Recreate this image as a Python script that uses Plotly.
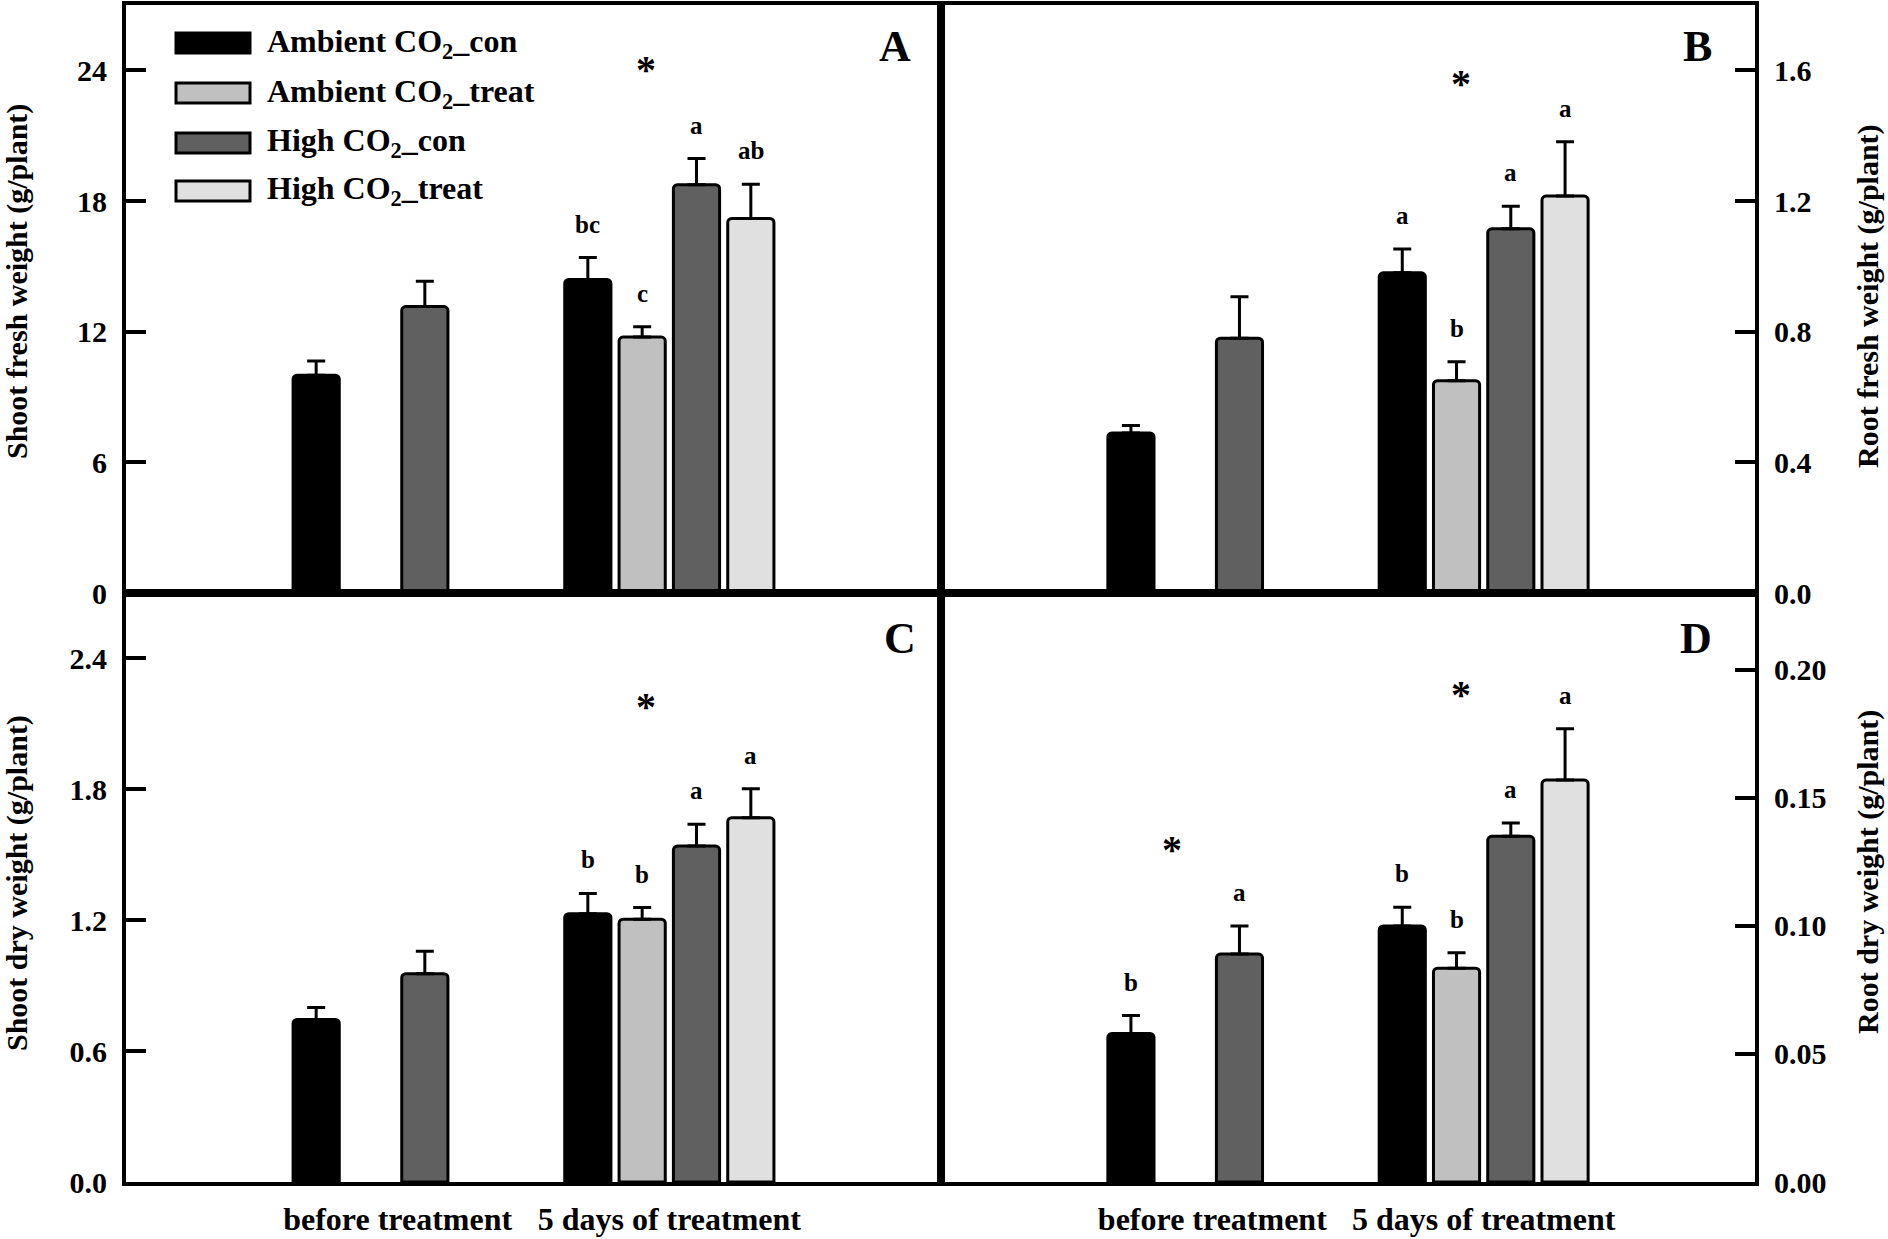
import plotly.graph_objects as go

# ---------------- data ----------------
categories = ["before treatment", "5 days of treatment"]
series_names = ["Ambient CO<sub>2</sub>_con", "Ambient CO<sub>2</sub>_treat",
                "High CO<sub>2</sub>_con", "High CO<sub>2</sub>_treat"]
series_colors = ["#000000", "#c0c0c0", "#606060", "#e0e0e0"]

# Panel A: shoot fresh weight (g/plant)
a_amb_con = [10.0, 14.4]
a_amb_treat = [None, 11.75]
a_high_con = [13.15, 18.75]
a_high_treat = [None, 17.2]
a_err_amb_con = [0.65, 1.0]
a_err_amb_treat = [None, 0.48]
a_err_high_con = [1.17, 1.2]
a_err_high_treat = [None, 1.57]
a_letters = [[None, "bc"], [None, "c"], [None, "a"], [None, "ab"]]
a_stars = [(1, 24.2)]

# Panel B: root fresh weight (g/plant)
b_amb_con = [0.49, 0.98]
b_amb_treat = [None, 0.65]
b_high_con = [0.78, 1.115]
b_high_treat = [None, 1.215]
b_err_amb_con = [0.023, 0.073]
b_err_amb_treat = [None, 0.058]
b_err_high_con = [0.127, 0.069]
b_err_high_treat = [None, 0.166]
b_letters = [[None, "a"], [None, "b"], [None, "a"], [None, "a"]]
b_stars = [(1, 1.573)]

# Panel C: shoot dry weight (g/plant)
c_amb_con = [0.745, 1.23]
c_amb_treat = [None, 1.205]
c_high_con = [0.955, 1.54]
c_high_treat = [None, 1.67]
c_err_amb_con = [0.055, 0.093]
c_err_amb_treat = [None, 0.053]
c_err_high_con = [0.103, 0.10]
c_err_high_treat = [None, 0.133]
c_letters = [[None, "b"], [None, "b"], [None, "a"], [None, "a"]]
c_stars = [(1, 2.2)]

# Panel D: root dry weight (g/plant)
d_amb_con = [0.058, 0.100]
d_amb_treat = [None, 0.0835]
d_high_con = [0.089, 0.135]
d_high_treat = [None, 0.157]
d_err_amb_con = [0.007, 0.0073]
d_err_amb_treat = [None, 0.006]
d_err_high_con = [0.011, 0.0052]
d_err_high_treat = [None, 0.020]
d_letters = [["b", "b"], [None, "b"], ["a", "a"], [None, "a"]]
d_stars = [(0, 0.1315), (1, 0.192)]

y_titles = ["Shoot fresh weight (g/plant)", "Root fresh weight (g/plant)",
            "Shoot dry weight (g/plant)", "Root dry weight (g/plant)"]
panel_labels = ["A", "B", "C", "D"]
y_ticks = [[0, 6, 12, 18, 24], [0, 0.4, 0.8, 1.2, 1.6],
           [0, 0.6, 1.2, 1.8, 2.4], [0, 0.05, 0.10, 0.15, 0.20]]
y_tickfmt = ["d", ".1f", ".1f", ".2f"]
y_ranges = [[0, 27], [0, 1.8], [0, 2.7], [0, 0.23]]

panels = [
    ([a_amb_con, a_amb_treat, a_high_con, a_high_treat],
     [a_err_amb_con, a_err_amb_treat, a_err_high_con, a_err_high_treat], a_letters, a_stars),
    ([b_amb_con, b_amb_treat, b_high_con, b_high_treat],
     [b_err_amb_con, b_err_amb_treat, b_err_high_con, b_err_high_treat], b_letters, b_stars),
    ([c_amb_con, c_amb_treat, c_high_con, c_high_treat],
     [c_err_amb_con, c_err_amb_treat, c_err_high_con, c_err_high_treat], c_letters, c_stars),
    ([d_amb_con, d_amb_treat, d_high_con, d_high_treat],
     [d_err_amb_con, d_err_amb_treat, d_err_high_con, d_err_high_treat], d_letters, d_stars),
]

# ---------------- layout geometry ----------------
W, H = 1888, 1239
L, R, T, B = 126, 1755, 5, 1182
PW, PH = R - L, B - T
XSPLIT = (941 - L) / PW
YSPLIT = (B - 593) / PH


def px_x(px):
    return (px - L) / PW


def px_y(py):
    return (B - py) / PH


FONT = "Liberation Serif, Times New Roman, serif"

fig = go.Figure()

axis_ids = [("x", "y"), ("x2", "y2"), ("x3", "y3"), ("x4", "y4")]
slot = 0.8 / 4
star_dx = {0: -0.15, 1: -0.085}

for p, (vals, errs, letters, stars) in enumerate(panels):
    xa, ya = axis_ids[p]
    for i in range(4):
        fig.add_trace(go.Bar(
            x=categories, y=vals[i], name=series_names[i],
            marker=dict(color=series_colors[i], line=dict(color="black", width=3),
                        cornerradius=4),
            error_y=dict(type="data", array=errs[i],
                         arrayminus=[0 if e is not None else None for e in errs[i]],
                         symmetric=False, color="black", thickness=3, width=9),
            xaxis=xa, yaxis=ya, showlegend=False, offsetgroup=str(i),
        ))
        # significance letters
        for ci in range(len(categories)):
            lt = letters[i][ci]
            if lt is None or vals[i][ci] is None:
                continue
            fig.add_annotation(
                x=ci + (i - 1.5) * slot, y=vals[i][ci] + errs[i][ci],
                xref=xa, yref=ya, text=lt, showarrow=False,
                yanchor="bottom", yshift=18,
                font=dict(family=FONT, size=25, color="black", weight="bold"))
    for ci, yv in stars:
        fig.add_annotation(
            x=ci + star_dx[ci], y=yv, xref=xa, yref=ya, text="*", showarrow=False,
            yanchor="middle", yshift=-4,
            font=dict(family=FONT, size=40, color="black", weight="bold"))

layout_axes = {}
xdomains = [[0, XSPLIT], [XSPLIT, 1], [0, XSPLIT], [XSPLIT, 1]]
ydomains = [[YSPLIT, 1], [YSPLIT, 1], [0, YSPLIT], [0, YSPLIT]]
for p in range(4):
    suffix = "" if p == 0 else str(p + 1)
    right = p in (1, 3)
    bottom = p in (2, 3)
    layout_axes["xaxis" + suffix] = dict(
        domain=xdomains[p], anchor="y" + suffix, range=[-1, 2], type="category",
        showline=True, linewidth=4, linecolor="black", mirror=True,
        ticks="", showticklabels=bottom, showgrid=False, zeroline=False,
        tickfont=dict(family=FONT, size=32, color="black", weight="bold"),
        ticklabelstandoff=6,
    )
    layout_axes["yaxis" + suffix] = dict(
        domain=ydomains[p], anchor="x" + suffix, range=y_ranges[p],
        side="right" if right else "left",
        showline=True, linewidth=4, linecolor="black", mirror=True,
        ticks="inside", ticklen=20, tickwidth=4, tickcolor="black",
        tickvals=y_ticks[p], tickformat=y_tickfmt[p],
        showgrid=False, zeroline=False,
        tickfont=dict(family=FONT, size=30, color="black", weight="bold"),
        ticklabelstandoff=9,
    )

fig.update_layout(
    width=W, height=H,
    margin=dict(l=L, r=W - R, t=T, b=H - B, autoexpand=False),
    paper_bgcolor="white", plot_bgcolor="white",
    barmode="group", bargap=0.2, bargroupgap=0.15,
    font=dict(family=FONT, color="black"),
    **layout_axes,
)

# y-axis titles
title_pos = [(17, 282), (1868, 296), (17, 883), (1868, 872)]
for p in range(4):
    xp, yp = title_pos[p]
    fig.add_annotation(
        x=px_x(xp), y=px_y(yp), xref="paper", yref="paper",
        text=y_titles[p], textangle=-90, showarrow=False,
        xanchor="center", yanchor="middle",
        font=dict(family=FONT, size=30, color="black", weight="bold"))

# panel letters
label_pos = [(895, 46), (1697, 46), (900, 638), (1696, 638)]
for p in range(4):
    xp, yp = label_pos[p]
    fig.add_annotation(
        x=px_x(xp), y=px_y(yp), xref="paper", yref="paper",
        text=panel_labels[p], showarrow=False, xanchor="center", yanchor="middle",
        font=dict(family=FONT, size=44, color="black", weight="bold"))

# legend (drawn manually with large swatches)
leg_rows = [43, 93, 143, 191]
for i, name in enumerate(series_names):
    yc = leg_rows[i]
    fig.add_shape(
        type="rect", xref="paper", yref="paper",
        x0=px_x(176), x1=px_x(250), y0=px_y(yc + 10), y1=px_y(yc - 10),
        fillcolor=series_colors[i], line=dict(color="black", width=3))
    fig.add_annotation(
        x=px_x(265), y=px_y(yc), xref="paper", yref="paper",
        text=name, showarrow=False, xanchor="left", yanchor="middle",
        font=dict(family=FONT, size=32, color="black", weight="bold"))

fig.write_html("out.html",
               config={"displayModeBar": False},
               post_script="document.body.style.margin='0';"
                           "document.body.style.overflow='hidden';")
